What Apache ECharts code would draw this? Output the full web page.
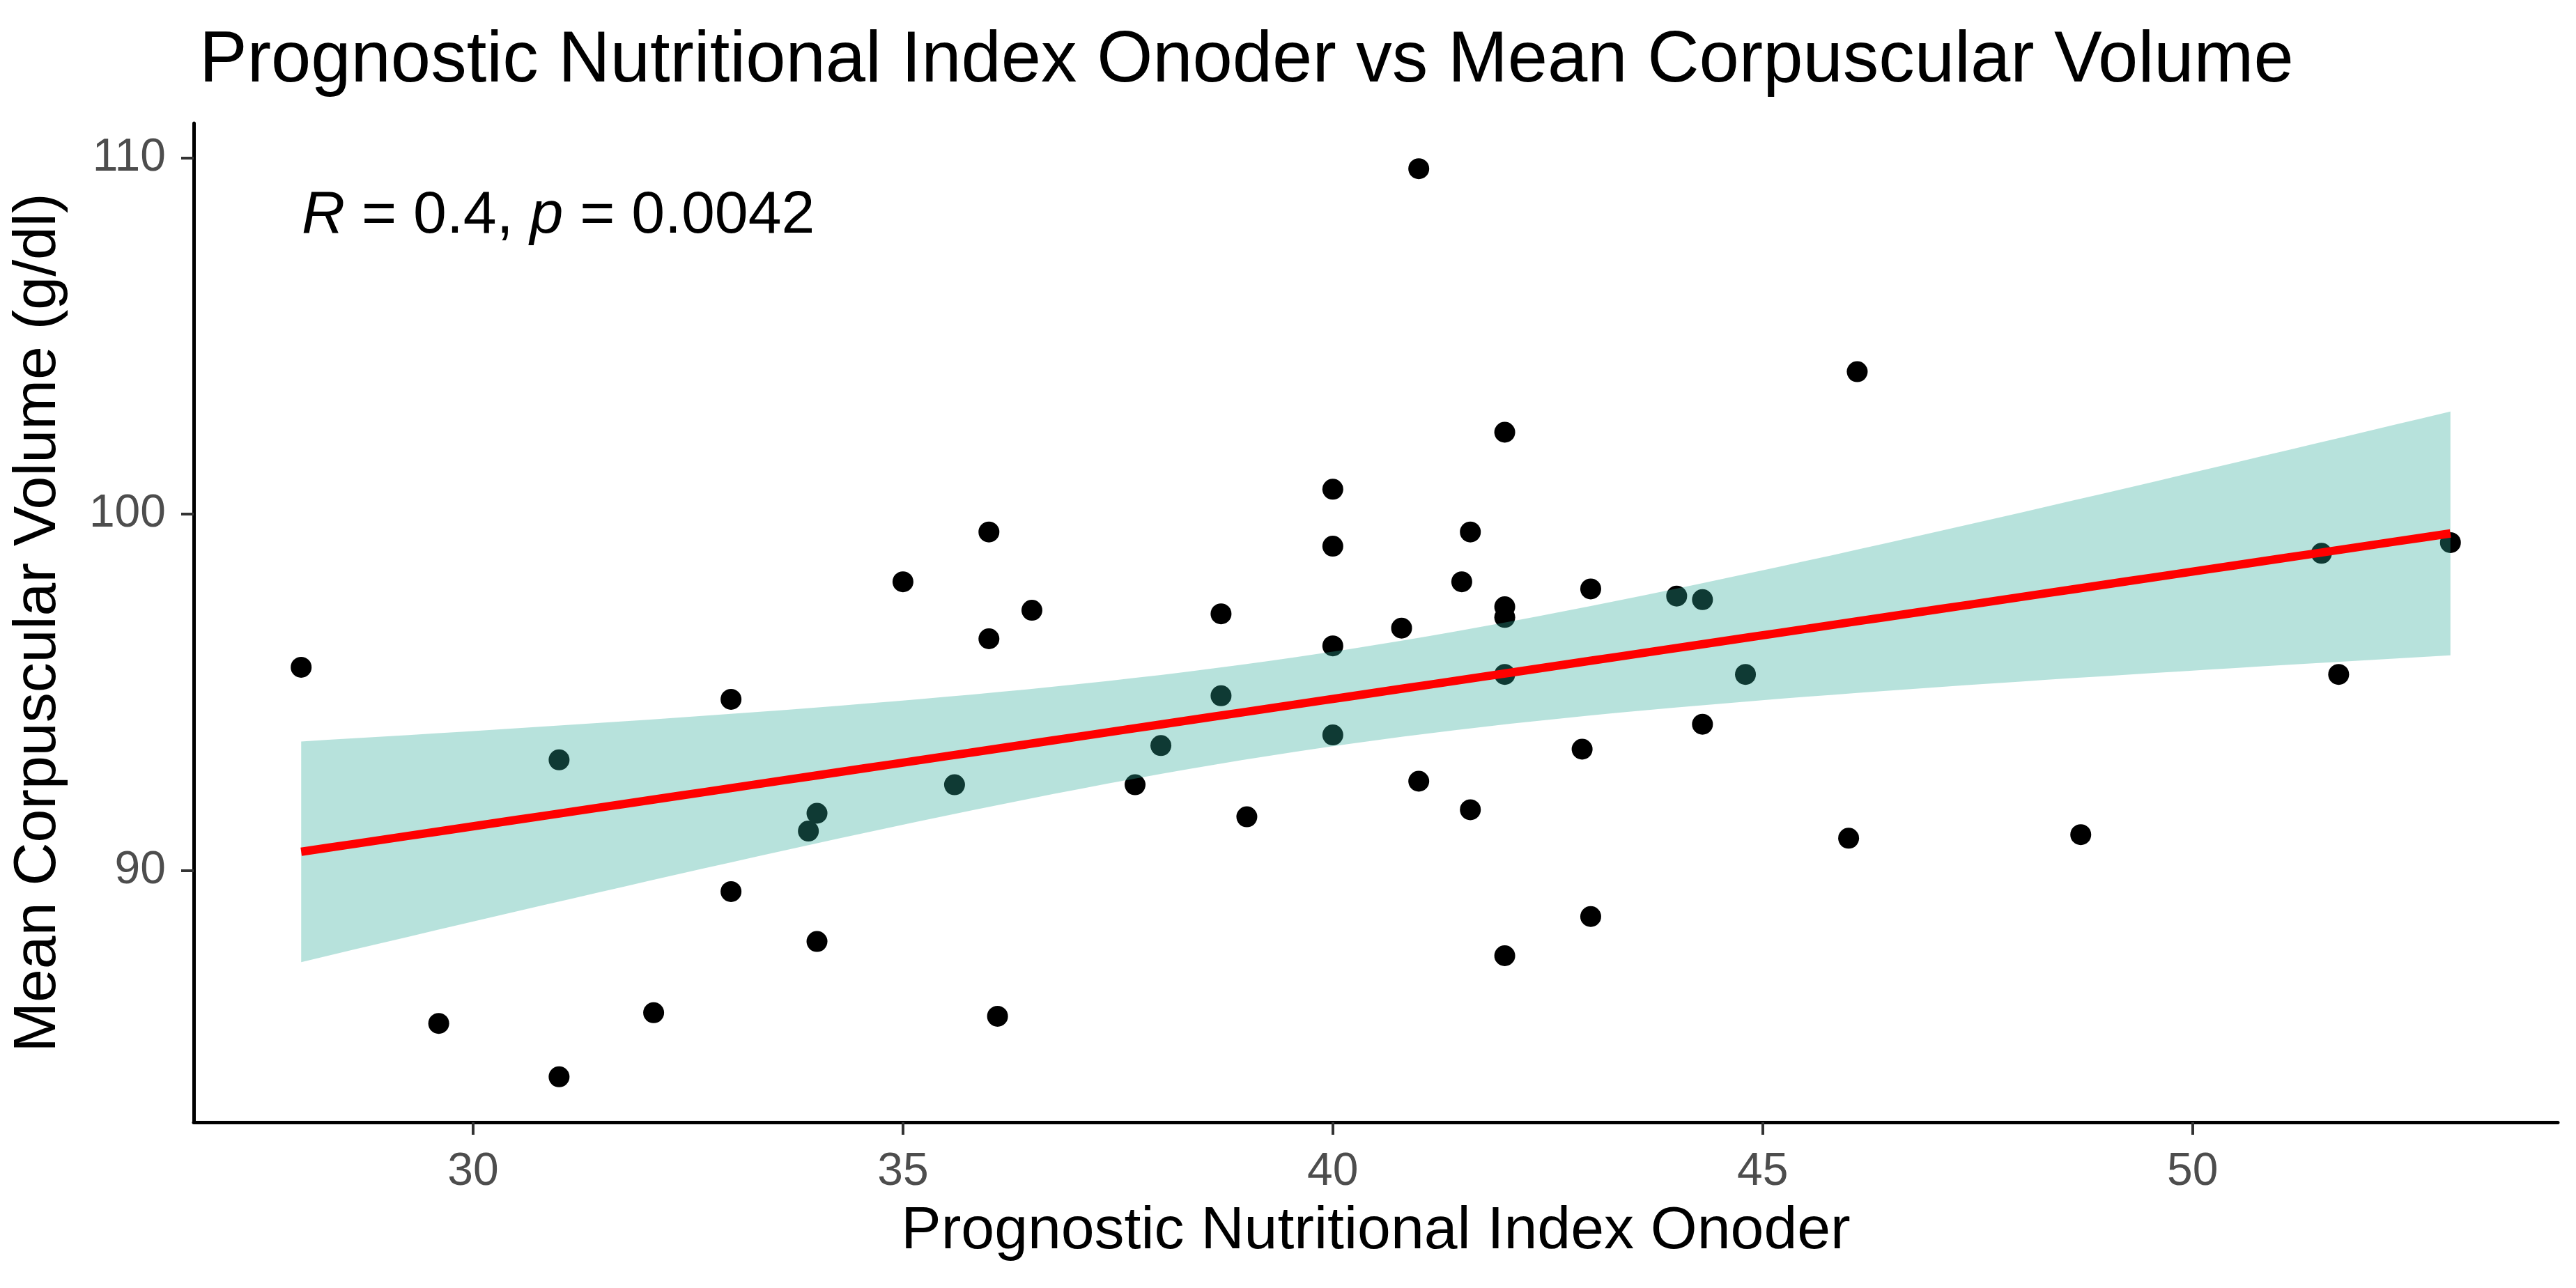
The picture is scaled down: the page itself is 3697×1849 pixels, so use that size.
<!DOCTYPE html>
<html><head><meta charset="utf-8">
<script src="https://cdn.jsdelivr.net/npm/echarts@6/dist/echarts.min.js"></script>
<style>html,body{margin:0;padding:0;background:#fff}#c{width:3697px;height:1849px}</style>
</head><body><div id="c"></div>
<script>
// ---- data ----
const pniOnoder = [28, 29.6, 31, 31, 32.1, 33, 33, 33.9, 34, 34, 35, 35.6, 36, 36, 36.1, 36.5, 37.7, 38, 38.7, 38.7, 39, 40, 40, 40, 40, 40.8, 41, 41, 41.5, 41.6, 41.6, 42, 42, 42, 42, 42, 42.9, 43, 43, 44, 44.3, 44.3, 44.8, 46, 46.1, 48.7, 51.5, 51.7, 53];
const mcv = [95.7, 85.7, 93.1, 84.2, 86.0, 94.8, 89.4, 91.1, 91.6, 88.0, 98.1, 92.4, 99.5, 96.5, 85.9, 97.3, 92.4, 93.5, 97.2, 94.9, 91.5, 100.7, 99.1, 96.3, 93.8, 96.8, 109.7, 92.5, 98.1, 99.5, 91.7, 102.3, 97.4, 97.1, 95.5, 87.6, 93.4, 97.9, 88.7, 97.7, 97.6, 94.1, 95.5, 90.9, 104.0, 91.0, 98.9, 95.5, 99.2];
const xTicks = [30, 35, 40, 45, 50];
const yTicks = [90, 100, 110];
const titleText = 'Prognostic Nutritional Index Onoder vs Mean Corpuscular Volume';
const xTitle = 'Prognostic Nutritional Index Onoder';
const yTitle = 'Mean Corpuscular Volume (g/dl)';
const statText = '{i|R} = 0.4, {i|p} = 0.0042';
const tCrit = 2.012; // t(0.975, df = n-2)

// ---- linear model (lm) with 95% CI, as geom_smooth(method = "lm") ----
const n = pniOnoder.length;
const xbar = pniOnoder.reduce((a, b) => a + b, 0) / n;
const ybar = mcv.reduce((a, b) => a + b, 0) / n;
let sxx = 0, sxy = 0;
for (let i = 0; i < n; i++) { sxx += (pniOnoder[i] - xbar) ** 2; sxy += (pniOnoder[i] - xbar) * (mcv[i] - ybar); }
const slope = sxy / sxx, intercept = ybar - slope * xbar;
let sse = 0;
for (let i = 0; i < n; i++) sse += (mcv[i] - intercept - slope * pniOnoder[i]) ** 2;
const sigma = Math.sqrt(sse / (n - 2));
const xMin = Math.min(...pniOnoder), xMax = Math.max(...pniOnoder);
const yMin = Math.min(...mcv), yMax = Math.max(...mcv);
const fitX = [];
for (let k = 0; k <= 80; k++) fitX.push(xMin + (xMax - xMin) * k / 80);
const fitLine = fitX.map(x => [x, intercept + slope * x]);
const upper = fitX.map(x => { const se = sigma * Math.sqrt(1 / n + (x - xbar) ** 2 / sxx); return [x, intercept + slope * x + tCrit * se]; });
const lower = fitX.map(x => { const se = sigma * Math.sqrt(1 / n + (x - xbar) ** 2 / sxx); return [x, intercept + slope * x - tCrit * se]; });
const bandPoly = upper.concat(lower.slice().reverse());

const xr = xMax - xMin, yr = yMax - yMin;
const FONT = '"Liberation Sans", Arial, sans-serif';

const chart = echarts.init(document.getElementById('c'), null, { renderer: 'canvas' });
chart.setOption({
  backgroundColor: '#ffffff',
  animation: false,
  title: [
    { text: titleText, left: 281, top: 32, textStyle: { fontFamily: FONT, fontSize: 103, fontWeight: 'normal', color: '#000' } },
    { text: statText, left: 428, top: 262, textStyle: { fontFamily: FONT, fontSize: 86, fontWeight: 'normal', color: '#000',
        rich: { i: { fontFamily: FONT, fontSize: 86, fontStyle: 'italic', color: '#000' } } } }
  ],
  grid: { left: 278, right: 26, top: 177, bottom: 238, containLabel: false, outerBoundsMode: 'none' },
  xAxis: {
    type: 'value', min: xMin - 0.05 * xr, max: xMax + 0.05 * xr,
    name: xTitle, nameLocation: 'middle', nameGap: 114, nameMoveOverlap: false,
    nameTextStyle: { fontFamily: FONT, fontSize: 86, color: '#000' },
    axisLine: { show: true, onZero: false, lineStyle: { color: '#000', width: 5 } },
    axisTick: { show: true, customValues: xTicks, length: 18, lineStyle: { color: '#333', width: 4 } },
    axisLabel: { show: true, customValues: xTicks, margin: 39, fontFamily: FONT, fontSize: 66, color: '#4D4D4D' },
    splitLine: { show: false }
  },
  yAxis: {
    type: 'value', min: yMin - 0.05 * yr, max: yMax + 0.05 * yr,
    name: yTitle, nameLocation: 'middle', nameGap: 180, nameRotate: 90, nameMoveOverlap: false,
    nameTextStyle: { fontFamily: FONT, fontSize: 86, color: '#000' },
    axisLine: { show: true, onZero: false, lineStyle: { color: '#000', width: 5 } },
    axisTick: { show: true, customValues: yTicks, length: 18, lineStyle: { color: '#333', width: 4 } },
    axisLabel: { show: true, customValues: yTicks, margin: 40, fontFamily: FONT, fontSize: 66, color: '#4D4D4D' },
    splitLine: { show: false }
  },
  series: [
    {
      type: 'scatter', z: 2, symbol: 'circle', symbolSize: 30,
      itemStyle: { color: '#000', opacity: 1 },
      data: pniOnoder.map((x, i) => [x, mcv[i]])
    },
    {
      type: 'custom', z: 3, silent: true, clip: true,
      data: [[xMin, yMin]],
      renderItem: function (params, api) {
        const pts = bandPoly.map(p => api.coord(p));
        return { type: 'polygon', shape: { points: pts }, style: { fill: 'rgba(44,169,151,0.34)', stroke: null } };
      }
    },
    {
      type: 'line', z: 4, symbol: 'none', silent: true,
      lineStyle: { color: '#FF0000', width: 12 },
      data: fitLine
    }
  ]
});
</script></body></html>
